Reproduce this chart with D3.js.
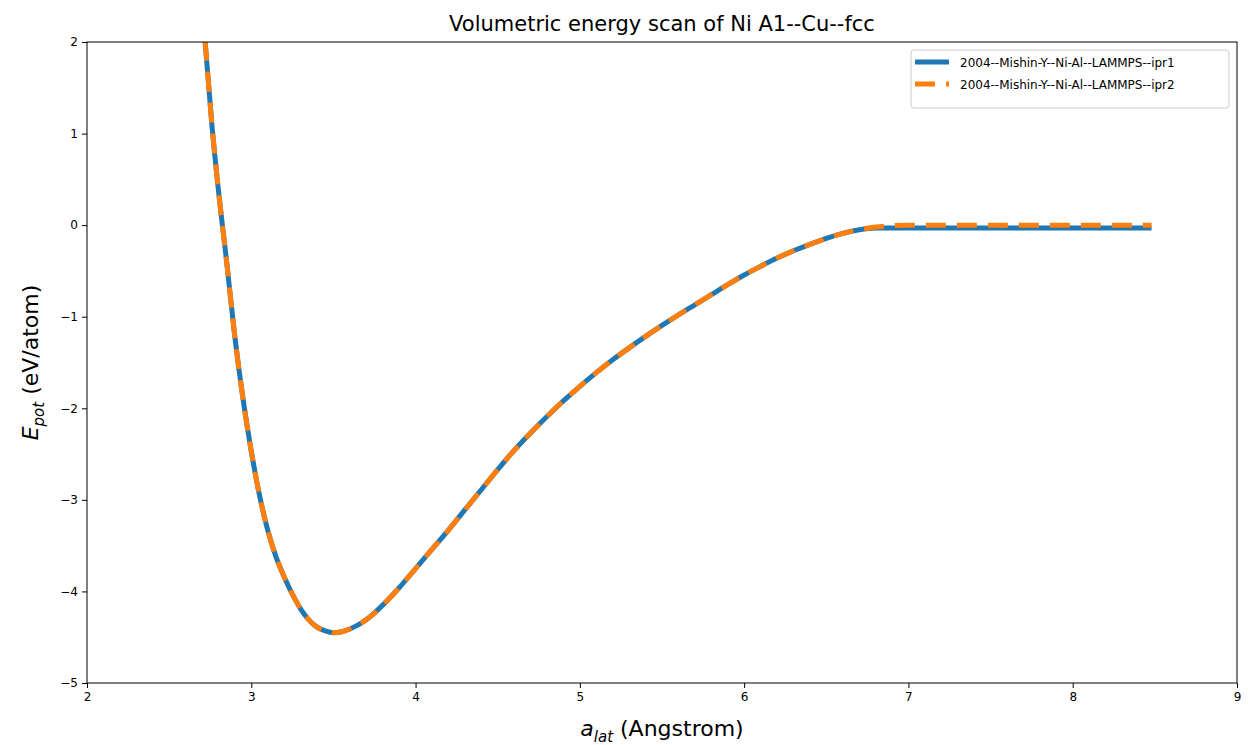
<!DOCTYPE html>
<html>
<head>
<meta charset="utf-8">
<script src="https://cdn.jsdelivr.net/npm/d3@7"></script>
<style>
  body { margin: 0; background: #fff; }
  text { font-family: "DejaVu Sans", sans-serif; fill: #000; }
</style>
</head>
<body>
<div id="chart"></div>
<script>
// lattice constant (Angstrom) and energies (eV/atom)
var aLat = [2.70, 2.72, 2.76, 2.80, 2.85, 2.90, 2.95, 3.00, 3.05, 3.10, 3.15, 3.20,
    3.25, 3.30, 3.35, 3.40, 3.45, 3.50, 3.55, 3.60, 3.70, 3.80, 3.90, 4.00, 4.10,
    4.20, 4.30, 4.40, 4.50, 4.60, 4.70, 4.80, 4.90, 5.00, 5.10, 5.20, 5.30, 5.40,
    5.50, 5.60, 5.70, 5.80, 5.90, 6.00, 6.10, 6.20, 6.30, 6.40, 6.50, 6.60, 6.70,
    6.80, 6.90, 7.00, 7.50, 8.00, 8.48];

var ePotIpr1 = [2.35, 1.98, 1.10, 0.38, -0.40, -1.22, -1.90, -2.47, -2.95, -3.33, -3.62, -3.84,
    -4.03, -4.19, -4.31, -4.39, -4.43, -4.45, -4.44, -4.41, -4.31, -4.15, -3.96, -3.75, -3.54,
    -3.33, -3.11, -2.89, -2.67, -2.46, -2.27, -2.09, -1.92, -1.76, -1.61, -1.47, -1.34, -1.215,
    -1.095, -0.98, -0.87, -0.76, -0.65, -0.545, -0.45, -0.36, -0.28, -0.21, -0.145, -0.09, -0.05,
    -0.03, -0.03, -0.03, -0.03, -0.03, -0.03];

var ePotIpr2 = [2.35, 1.98, 1.10, 0.38, -0.40, -1.22, -1.90, -2.47, -2.95, -3.33, -3.62, -3.84,
    -4.03, -4.19, -4.31, -4.39, -4.43, -4.45, -4.44, -4.41, -4.31, -4.15, -3.96, -3.75, -3.54,
    -3.33, -3.11, -2.89, -2.67, -2.46, -2.27, -2.09, -1.92, -1.76, -1.61, -1.47, -1.34, -1.215,
    -1.095, -0.98, -0.87, -0.76, -0.65, -0.545, -0.45, -0.36, -0.28, -0.21, -0.145, -0.09, -0.05,
    -0.02, -0.005, 0, 0, 0, 0];

var seriesNames = ["2004--Mishin-Y--Ni-Al--LAMMPS--ipr1", "2004--Mishin-Y--Ni-Al--LAMMPS--ipr2"];
var xTicks = [2, 3, 4, 5, 6, 7, 8, 9];
var yTicks = [2, 1, 0, -1, -2, -3, -4, -5];

var svgWidth = 1248;
var svgHeight = 745;
var margin = {top: 42, right: 11, bottom: 62, left: 87};
var chartWidth = svgWidth - margin.left - margin.right;
var chartHeight = svgHeight - margin.top - margin.bottom;

var svg = d3.select("#chart").append("svg")
    .attr("width", svgWidth)
    .attr("height", svgHeight);

var chartGroup = svg.append("g")
    .attr("transform", `translate(${margin.left},${margin.top})`);

var x = d3.scaleLinear().domain([2, 9]).range([0, chartWidth]);
var y = d3.scaleLinear().domain([-5, 2]).range([chartHeight, 0]);

chartGroup.append("clipPath").attr("id", "clip")
    .append("rect").attr("width", chartWidth).attr("height", chartHeight);

var line = d3.line()
    .x(d => x(d[0]))
    .y(d => y(d[1]))
    .curve(d3.curveMonotoneX);

var data1 = aLat.map((a, i) => [a, ePotIpr1[i]]);
var data2 = aLat.map((a, i) => [a, ePotIpr2[i]]);

var colors = ["#1f77b4", "#ff7f0e"];

chartGroup.append("path").datum(data1)
    .attr("clip-path", "url(#clip)")
    .attr("d", line)
    .attr("fill", "none")
    .attr("stroke", colors[0])
    .attr("stroke-width", 5);

chartGroup.append("path").datum(data2)
    .attr("clip-path", "url(#clip)")
    .attr("d", line)
    .attr("fill", "none")
    .attr("stroke", colors[1])
    .attr("stroke-width", 5)
    .attr("stroke-dasharray", "20,11");

// axes
var xAxis = chartGroup.append("g")
    .attr("transform", `translate(0,${chartHeight})`)
    .call(d3.axisBottom(x).tickValues(xTicks).tickSize(5).tickPadding(4).tickFormat(d3.format("d")));
var yAxis = chartGroup.append("g")
    .call(d3.axisLeft(y).tickValues(yTicks).tickSize(5).tickPadding(4).tickFormat(d3.format("d")));
[xAxis, yAxis].forEach(function(g) {
    g.select(".domain").remove();
    g.selectAll("text").style("font-size", "12px").style("font-family", "DejaVu Sans");
    g.selectAll("line").attr("stroke", "#000");
});

chartGroup.append("rect")
    .attr("width", chartWidth).attr("height", chartHeight)
    .attr("fill", "none").attr("stroke", "#000").attr("stroke-width", 1);

// title
svg.append("text")
    .attr("x", margin.left + chartWidth / 2)
    .attr("y", 31)
    .attr("text-anchor", "middle")
    .style("font-size", "21px")
    .text("Volumetric energy scan of Ni A1--Cu--fcc");

// x label
var xl = svg.append("text")
    .attr("x", margin.left + chartWidth / 2)
    .attr("y", 736)
    .attr("text-anchor", "middle")
    .style("font-size", "22px");
xl.append("tspan").style("font-style", "italic").text("a");
xl.append("tspan").attr("dy", 6).style("font-size", "15px").style("font-style", "italic").text("lat");
xl.append("tspan").attr("dy", -6).text(" (Angstrom)");

// y label
var yl = svg.append("text")
    .attr("transform", `translate(38,${margin.top + chartHeight / 2}) rotate(-90)`)
    .attr("text-anchor", "middle")
    .style("font-size", "22px");
yl.append("tspan").style("font-style", "italic").text("E");
yl.append("tspan").attr("dy", 6).style("font-size", "15px").style("font-style", "italic").text("pot");
yl.append("tspan").attr("dy", -6).text(" (eV/atom)");

// legend
var legend = svg.append("g").attr("transform", "translate(911,50)");
legend.append("rect")
    .attr("width", 318).attr("height", 58).attr("rx", 3)
    .attr("fill", "#fff").attr("stroke", "#ccc");
seriesNames.forEach(function(name, i) {
    var row = legend.append("g").attr("transform", `translate(0,${12 + i * 22})`);
    row.append("line")
        .attr("x1", 4).attr("x2", 38).attr("y1", 0).attr("y2", 0)
        .attr("stroke", colors[i]).attr("stroke-width", 5)
        .attr("stroke-dasharray", i === 1 ? "20,11" : null);
    row.append("text")
        .attr("x", 49).attr("y", 5)
        .style("font-size", "12px")
        .text(name);
});
</script>
</body>
</html>
